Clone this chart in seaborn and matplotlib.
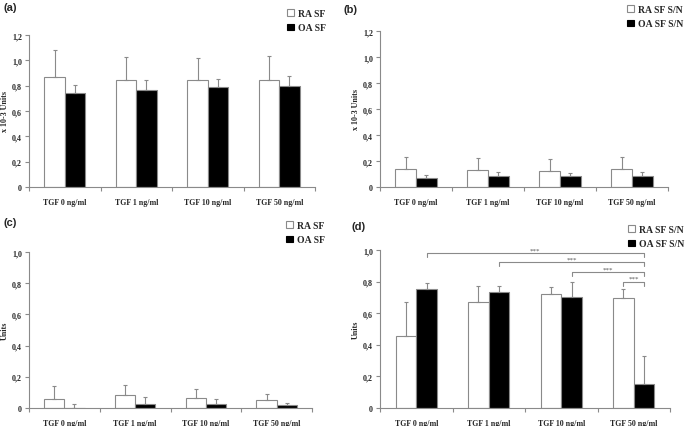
import numpy as np
import pandas as pd
import matplotlib
matplotlib.use("Agg")
import matplotlib.pyplot as plt
import seaborn as sns
from matplotlib.patches import Patch
from matplotlib.container import BarContainer

# ---------------- data ----------------
categories = ["TGF 0 ng/ml", "TGF 1 ng/ml", "TGF 10 ng/ml", "TGF 50 ng/ml"]

a_ra = [0.868, 0.842, 0.842, 0.842]
a_ra_err = [0.216, 0.184, 0.176, 0.192]
a_oa = [0.741, 0.768, 0.786, 0.794]
a_oa_err = [0.064, 0.076, 0.066, 0.079]

b_ra = [0.135, 0.127, 0.122, 0.135]
b_ra_err = [0.094, 0.094, 0.091, 0.099]
b_oa = [0.068, 0.086, 0.083, 0.086]
b_oa_err = [0.023, 0.031, 0.023, 0.028]

c_ra = [0.060, 0.084, 0.064, 0.051]
c_ra_err = [0.082, 0.064, 0.056, 0.039]
c_oa = [0.002, 0.028, 0.023, 0.017]
c_oa_err = [0.021, 0.044, 0.032, 0.015]

d_ra = [0.453, 0.672, 0.723, 0.698]
d_ra_err = [0.219, 0.102, 0.045, 0.055]
d_oa = [0.751, 0.734, 0.704, 0.149]
d_oa_err = [0.043, 0.038, 0.096, 0.179]

labels_sf = ["RA SF", "OA SF"]
labels_sn = ["RA SF S/N", "OA SF S/N"]

# significance brackets in (d): (group, hue) -> (group, hue), height
sig_pairs = [((0, 1), (3, 1)), ((1, 1), (3, 1)), ((2, 1), (3, 1)), ((3, 0), (3, 1))]
sig_levels = [0.979, 0.921, 0.860, 0.800]
sig_text = ["***", "***", "***", "***"]

# ---------------- style ----------------
sns.set_style("white")
plt.rcParams["font.family"] = ["Liberation Serif", "DejaVu Serif"]
GRAY = "#8a8a8a"
W, H = 685, 427

fig = plt.figure(figsize=(W / 100, H / 100), dpi=100)


def fx(px):
    return px / W


def fy(py):
    return 1 - py / H


def bar_containers(ax):
    return [c for c in ax.containers if isinstance(c, BarContainer)]


def panel(rect_px, ra, ra_err, oa, oa_err, labels, ymax, ylabel, letter, letter_xy, leg_xy):
    l, t, r, b = rect_px
    ax = fig.add_axes([fx(l), fy(b), fx(r - l), fy(t) - fy(b)])
    df = pd.DataFrame({
        "cat": categories * 2,
        "val": list(ra) + list(oa),
        "grp": [labels[0]] * 4 + [labels[1]] * 4,
    })
    sns.barplot(data=df, x="cat", y="val", hue="grp", order=categories,
                hue_order=labels, palette=["white", "black"], width=0.57,
                errorbar=None, edgecolor=GRAY, linewidth=0.8, saturation=1,
                legend=False, ax=ax)
    errs = [ra_err, oa_err]
    for ci, cont in enumerate(bar_containers(ax)):
        xs = [p.get_x() + p.get_width() / 2 for p in cont.patches]
        hs = [p.get_height() for p in cont.patches]
        ax.errorbar(xs, hs, yerr=[np.zeros(len(xs)), errs[ci]], fmt="none",
                    ecolor=GRAY, elinewidth=0.8, capsize=1.5, capthick=0.8,
                    zorder=1)
    ax.set_xlim(-0.5, 3.5)
    ax.set_ylim(0, ymax)
    yt = np.round(np.arange(0, ymax + 1e-9, 0.2), 1)
    ax.set_yticks(yt)
    ax.set_yticklabels(["0" if v == 0 else f"{v:.1f}".replace(".", ",") for v in yt],
                       fontsize=5.8, fontweight="bold")
    ax.set_xticks(range(4))
    ax.set_xticklabels(categories, fontsize=5.7, fontweight="bold")
    ax.set_xticks([-0.5, 0.5, 1.5, 2.5, 3.5], minor=True)
    ax.tick_params(axis="x", which="major", length=0, pad=8)
    ax.tick_params(axis="x", which="minor", length=3, width=0.8, color=GRAY, direction="out")
    ax.tick_params(axis="y", length=3, width=0.8, color=GRAY, direction="out", pad=2)
    ax.tick_params(bottom=True, left=True, which="both")
    sns.despine(ax=ax)
    for s in ["left", "bottom"]:
        ax.spines[s].set_color(GRAY)
        ax.spines[s].set_linewidth(0.8)
    ax.set_xlabel("")
    ax.set_ylabel(ylabel, fontsize=5.8, fontweight="bold", labelpad=2)
    fig.text(fx(letter_xy[0]), fy(letter_xy[1]), letter, fontsize=8,
             fontweight="bold", family="Liberation Sans", va="center", ha="left")
    handles = [Patch(facecolor="white", edgecolor=GRAY, linewidth=0.8, label=labels[0]),
               Patch(facecolor="black", edgecolor="black", linewidth=0.8, label=labels[1])]
    fig.legend(handles=handles, loc="upper left",
               bbox_to_anchor=(fx(leg_xy[0]), fy(leg_xy[1])),
               frameon=False, prop={"weight": "bold", "size": 7},
               handlelength=0.7, handleheight=0.7, handletextpad=0.4,
               labelspacing=0.55, borderpad=0, borderaxespad=0)
    return ax


ax_a = panel((29, 36, 315, 188), a_ra, a_ra_err, a_oa, a_oa_err, labels_sf, 1.2,
             "x 10-3 Units", "(a)", (3, 8), (287, 10))
ax_b = panel((380, 32, 668, 188), b_ra, b_ra_err, b_oa, b_oa_err, labels_sn, 1.2,
             "x 10-3 Units", "(b)", (343, 10), (627, 6))
ax_c = panel((29, 253, 312, 409), c_ra, c_ra_err, c_oa, c_oa_err, labels_sf, 1.0,
             "Units", "(c)", (3, 223), (286, 222))
ax_d = panel((380, 251, 670, 409), d_ra, d_ra_err, d_oa, d_oa_err, labels_sn, 1.0,
             "Units", "(d)", (352, 227), (628, 226))

# significance brackets for (d)
conts = bar_containers(ax_d)
for (p0, p1), lev, txt in zip(sig_pairs, sig_levels, sig_text):
    b0 = conts[p0[1]].patches[p0[0]]
    b1 = conts[p1[1]].patches[p1[0]]
    x0 = b0.get_x() + b0.get_width() / 2
    x1 = b1.get_x() + b1.get_width() / 2
    drop = 0.025
    ax_d.plot([x0, x0, x1, x1], [lev - drop, lev, lev, lev - drop], color=GRAY,
              lw=0.8, clip_on=False)
    ax_d.text((x0 + x1) / 2, lev + 0.004, txt, ha="center", va="bottom",
              fontsize=5, color="#555555")

fig.savefig("out.png", dpi=100)
